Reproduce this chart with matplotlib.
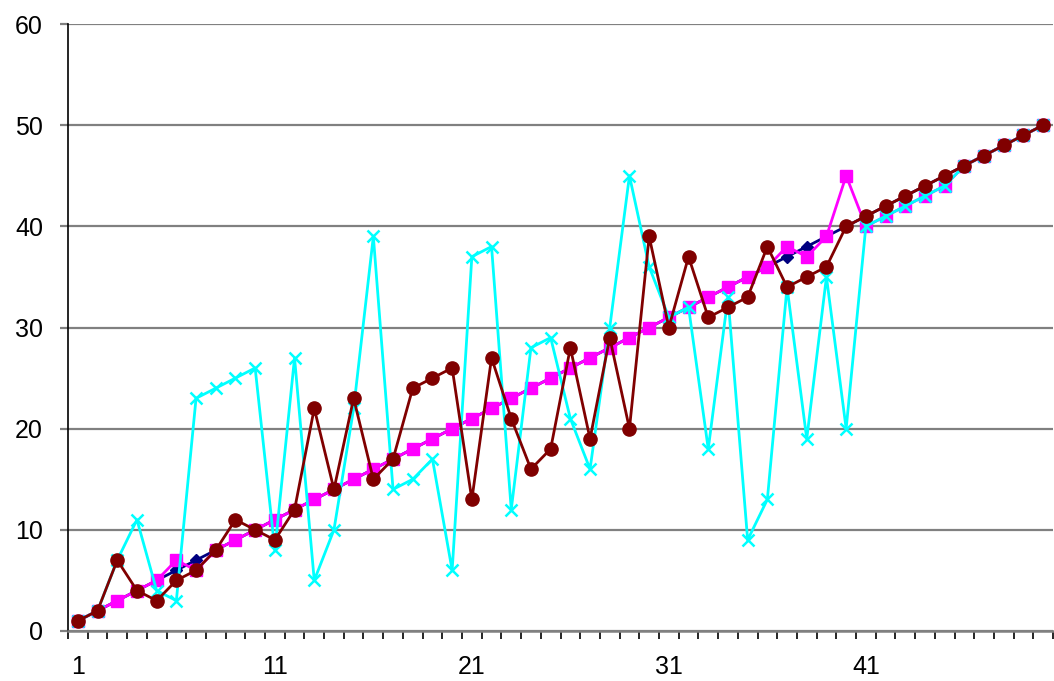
import numpy as np
import matplotlib
matplotlib.use("Agg")
import matplotlib.pyplot as plt

plt.rcParams['font.family'] = ['Liberation Sans', 'DejaVu Sans']

# categories 1..50
x = list(range(1, 51))

navy = list(range(1, 51))
magenta = [1, 2, 3, 4, 5, 7, 6, 8, 9, 10, 11, 12, 13, 14, 15, 16, 17, 18, 19, 20,
           21, 22, 23, 24, 25, 26, 27, 28, 29, 30, 31, 32, 33, 34, 35, 36, 38, 37, 39, 45,
           40, 41, 42, 43, 44, 46, 47, 48, 49, 50]
cyan = [1, 2, 7, 11, 4, 3, 23, 24, 25, 26, 8, 27, 5, 10, 22, 39, 14, 15, 17, 6,
        37, 38, 12, 28, 29, 21, 16, 30, 45, 36, 31, 32, 18, 33, 9, 13, 34, 19, 35, 20,
        40, 41, 42, 43, 44, 46, 47, 48, 49, 50]
darkred = [1, 2, 7, 4, 3, 5, 6, 8, 11, 10, 9, 12, 22, 14, 23, 15, 17, 24, 25, 26,
           13, 27, 21, 16, 18, 28, 19, 29, 20, 39, 30, 37, 31, 32, 33, 38, 34, 35, 36, 40,
           41, 42, 43, 44, 45, 46, 47, 48, 49, 50]

xlabels = ['1', '11', '21', '31', '41']

fig = plt.figure(figsize=(10.54, 6.81), dpi=100)
ax = fig.add_axes([68 / 1054, 50 / 681, 985 / 1054, 607 / 681])

ax.plot(x, navy, color='#000080', lw=2, marker='D', ms=6, zorder=3)
ax.plot(x, magenta, color='#FF00FF', lw=2, marker='s', ms=8.5, zorder=4)
ax.plot(x, cyan, color='#00FFFF', lw=2, marker='x', ms=9, mew=1.8, zorder=5)
ax.plot(x, darkred, color='#800000', lw=2, marker='o', ms=9.5, zorder=6)

ax.set_xlim(0.5, 50.5)
ax.set_ylim(0, 60)

ax.set_yticks(range(0, 61, 10))
ax.yaxis.grid(True, color='#808080', lw=1.6)
ax.set_axisbelow(True)
ax.tick_params(axis='y', length=6, width=1.6, color='#808080', pad=12, labelsize=18)

ax.set_xticks([int(v) for v in xlabels])
ax.set_xticklabels(xlabels)
ax.set_xticks(np.arange(0.5, 51, 1), minor=True)
ax.tick_params(axis='x', which='major', length=0, pad=17, labelsize=18)
ax.tick_params(axis='x', which='minor', length=5.5, width=1.2, color='black')

for s in ['top', 'right']:
    ax.spines[s].set_visible(False)
ax.spines['left'].set_color('black')
ax.spines['left'].set_linewidth(1.2)
ax.spines['bottom'].set_color('#808080')
ax.spines['bottom'].set_linewidth(1.8)

fig.savefig('out.png', dpi=100)
